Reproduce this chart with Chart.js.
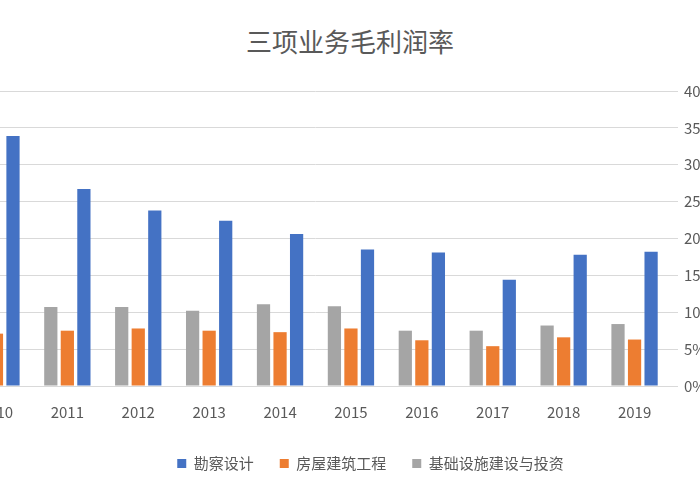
<!DOCTYPE html>
<html>
<head>
<meta charset="utf-8">
<script src="https://cdn.jsdelivr.net/npm/chart.js@4"></script>
<style>
  html, body { margin: 0; padding: 0; background: #fff; }
  #wrap { position: relative; width: 700px; height: 500px; overflow: hidden; background: #fff; }
  #title { position: absolute; top: 22px; left: 0; width: 700px; text-align: center;
    font: 26px "Noto Sans CJK SC", sans-serif; color: #595959; }
  #box { position: absolute; left: -40px; top: 0; width: 820px; height: 500px; }
</style>
</head>
<body>
<div id="wrap">
  <div id="title">三项业务毛利润率</div>
  <div id="box"><canvas id="c"></canvas></div>
</div>
<script>
  const years = ["2010", "2011", "2012", "2013", "2014", "2015", "2016", "2017", "2018", "2019"];
  const survey = [33.9, 26.7, 23.8, 22.4, 20.6, 18.5, 18.1, 14.4, 17.8, 18.2];
  const building = [7.1, 7.5, 7.8, 7.5, 7.3, 7.8, 6.2, 5.4, 6.6, 6.3];
  const infra = [10.5, 10.7, 10.7, 10.2, 11.1, 10.8, 7.5, 7.5, 8.2, 8.4];

  const font = "'Noto Sans CJK SC', sans-serif";

  new Chart(document.getElementById("c"), {
    type: "bar",
    data: {
      labels: years,
      datasets: [
        { label: "基础设施建设与投资", data: infra, backgroundColor: "#A5A5A5" },
        { label: "房屋建筑工程", data: building, backgroundColor: "#ED7D31" },
        { label: "勘察设计", data: survey, backgroundColor: "#4472C4" }
      ]
    },
    options: {
      responsive: true,
      maintainAspectRatio: false,
      animation: false,
      layout: { padding: { top: 91, left: 1, bottom: 19 } },
      datasets: { bar: { categoryPercentage: 0.7, barPercentage: 0.8 } },
      plugins: {
        legend: {
          position: "bottom",
          labels: {
            boxWidth: 9, boxHeight: 9, padding: 26,
            font: { size: 15, family: font }, color: "#595959",
            sort: (a, b) => b.datasetIndex - a.datasetIndex
          }
        },
        tooltip: { enabled: false }
      },
      scales: {
        x: {
          grid: { display: false },
          border: { color: "#d9d9d9" },
          ticks: { padding: 9, color: "#595959", font: { size: 15, family: font } }
        },
        y: {
          position: "right",
          min: 0, max: 40,
          afterFit: (s) => { s.width = 110; },
          grid: { color: "#d9d9d9" },
          border: { display: false },
          ticks: {
            stepSize: 5, padding: 6,
            color: "#595959", font: { size: 15, family: font },
            callback: (v) => v + "%"
          }
        }
      }
    }
  });
</script>
</body>
</html>
